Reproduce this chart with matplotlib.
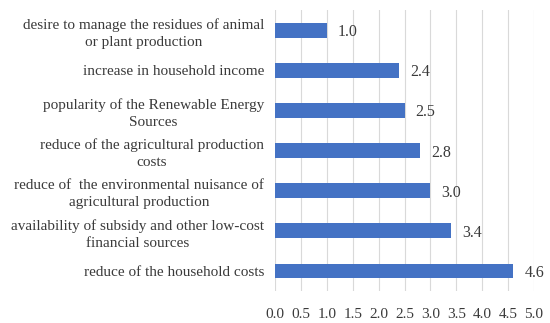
import matplotlib
matplotlib.use("Agg")
import matplotlib.pyplot as plt

categories = [
    "reduce of the household costs",
    "availability of subsidy and other low-cost\nfinancial sources",
    "reduce of  the environmental nuisance of\nagricultural production",
    "reduce of the agricultural production\ncosts",
    "popularity of the Renewable Energy\nSources",
    "increase in household income",
    "desire to manage the residues of animal\nor plant production",
]
values = [4.6, 3.4, 3.0, 2.8, 2.5, 2.4, 1.0]
xticks = [0.0, 0.5, 1.0, 1.5, 2.0, 2.5, 3.0, 3.5, 4.0, 4.5, 5.0]

plt.rcParams['font.family'] = ['Liberation Serif', 'DejaVu Serif']
text_color = '#3a3a3a'

fig = plt.figure(figsize=(5.5, 3.23), dpi=100)
ax = fig.add_axes([0.5, 0.099, 0.471, 0.87])
y = list(range(len(categories)))
ax.barh(y, values, height=0.37, color='#4472C4', zorder=3)
for yi, v in zip(y, values):
    ax.annotate(f"{v:.1f}", (v, yi), xytext=(8, -1.5), textcoords='offset points',
                va='center', ha='left', fontsize=11.5, color=text_color)
ax.set_yticks(y)
ax.set_yticklabels(categories, fontsize=11, color=text_color)
for lbl in ax.get_yticklabels():
    lbl.set_multialignment('center')
    lbl.set_linespacing(1.4)
ax.set_xticks(xticks)
ax.set_xticklabels([f"{t:.1f}" for t in xticks], fontsize=11, color=text_color)
ax.set_xlim(0, 5)
ax.set_ylim(-0.5, 6.5)
ax.grid(axis='x', color='#d9d9d9', linewidth=0.8, zorder=0)
for s in ax.spines.values():
    s.set_visible(False)
ax.tick_params(axis='both', length=0, pad=8)
ax.tick_params(axis='x', pad=12)
fig.savefig("out.png", dpi=100)
